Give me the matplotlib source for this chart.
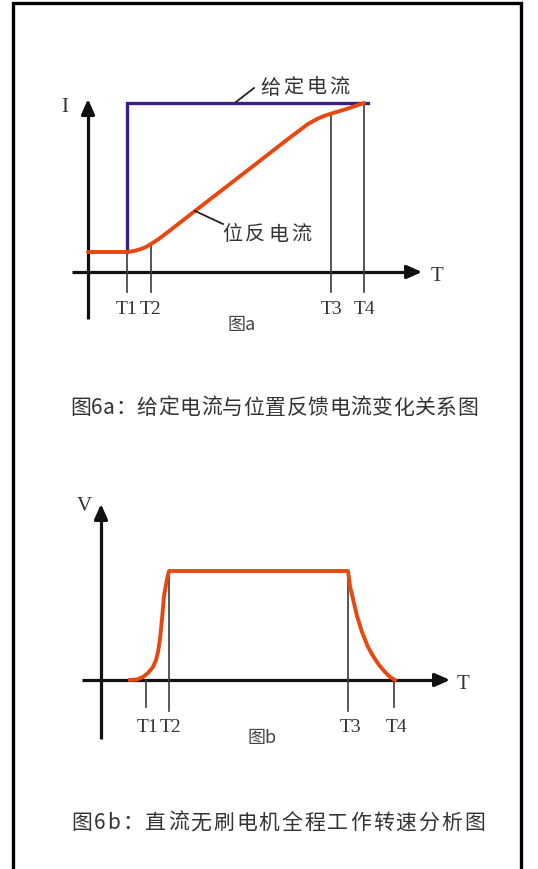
import numpy as np
import matplotlib
matplotlib.use("Agg")
import matplotlib.pyplot as plt
from matplotlib.patches import Rectangle

plt.rcParams['font.family'] = ['Noto Sans CJK SC', 'DejaVu Sans']

# ---- data, panel a (time and current, arbitrary units) ----
a_ticks = [39, 63, 243, 276]
a_tick_labels = ['T1', 'T2', 'T3', 'T4']
a_ref_t = [39, 39, 280]          # given current (step)
a_ref_i = [20, 169, 169]
a_fb_t = [0, 39, 43, 48, 53, 58, 63, 70, 80, 105, 162, 200, 212, 220, 229, 236, 242, 260, 276]
a_fb_i = [20, 20, 20.5, 21.5, 23, 25, 28, 32.5, 40, 59.5, 103.5, 133, 142, 148, 153, 156, 158, 163.5, 169]
a_tick_top = [20, 28, 158, 169]  # where the guide lines stop

# ---- data, panel b (time and speed) ----
b_ticks = [45, 68, 247, 293]
b_tick_labels = ['T1', 'T2', 'T3', 'T4']
b_tick_len = [27, 31, 31, 27]
b_t = [29, 36, 42, 47, 52, 55, 57, 59, 61, 63, 66, 68,
       247, 249, 252, 256, 261, 267, 272, 278, 284, 289, 294]
b_v = [0, 0.5, 3, 7, 13, 20, 28, 41, 61, 84, 101, 109,
       109, 94, 81, 64, 48, 33, 24, 15, 8, 3, 0]

ORANGE = '#e8480f'
PURPLE = '#3a1f8a'
GREY = '#3a3a3a'

W, H = 538, 870
fig = plt.figure(figsize=(W / 100, H / 100), dpi=100)
renderer = fig.canvas.get_renderer()


def px_axes(x0, y0, x1, y1, ox, oy):
    # axes covering pixel box, data unit = 1 px, origin at (ox, oy)
    ax = fig.add_axes([x0 / W, 1 - y1 / H, (x1 - x0) / W, (y1 - y0) / H])
    ax.set_xlim(x0 - ox, x1 - ox)
    ax.set_ylim(oy - y1, oy - y0)
    ax.axis('off')
    return ax


def spaced_text(xc, yc, s, size, gap, color='#333'):
    # place characters one by one (pixel coords, centre) with extra letter spacing
    widths = []
    for ch in s:
        t = fig.text(0, 0, ch, fontsize=size)
        widths.append(t.get_window_extent(renderer).width)
        t.remove()
    total = sum(widths) + gap * (len(s) - 1)
    x = xc - total / 2
    for ch, w in zip(s, widths):
        fig.text((x + w / 2) / W, 1 - yc / H, ch, fontsize=size, color=color,
                 ha='center', va='center')
        x += w + gap


def draw_axes(ax, xmin, xmax, ymin, ymax, xl, yl, xlab_pos, ylab_pos):
    ax.plot([xmin, xmax - 10], [0, 0], color='#111', lw=2.3, solid_capstyle='butt')
    ax.plot([0, 0], [ymin, ymax - 10], color='#111', lw=2.3, solid_capstyle='butt')
    ax.annotate('', xy=(xmax, 0), xytext=(xmax - 14, 0),
                arrowprops=dict(arrowstyle='-|>,head_length=0.9,head_width=0.4',
                                color='#111', lw=2.3, shrinkA=0, shrinkB=0))
    ax.annotate('', xy=(0, ymax), xytext=(0, ymax - 14),
                arrowprops=dict(arrowstyle='-|>,head_length=0.9,head_width=0.4',
                                color='#111', lw=2.3, shrinkA=0, shrinkB=0))
    ax.text(*xlab_pos, xl, family='Liberation Serif', fontsize=15, color='#333',
            ha='center', va='center')
    ax.text(*ylab_pos, yl, family='Liberation Serif', fontsize=15, color='#333',
            ha='center', va='center')


# ---------------- panel a ----------------
axa = px_axes(55, 85, 460, 340, 88, 273)
draw_axes(axa, -16, 334, -47, 173, 'T', 'I', (349, -4), (-23, 165))
for t, top in zip(a_ticks, a_tick_top):
    axa.plot([t, t], [-20, top], color=GREY, lw=1.2)
for t, lab in zip(a_ticks, a_tick_labels):
    axa.text(t, -37, lab, family='Liberation Serif', fontsize=14, color='#333',
             ha='center', va='center')
axa.plot(a_ref_t, a_ref_i, color=PURPLE, lw=2.4, solid_joinstyle='miter')
axa.plot(a_fb_t, a_fb_i, color=ORANGE, lw=2.8, solid_capstyle='round',
         solid_joinstyle='round')
axa.plot([148, 166], [170, 184], color='#222', lw=1.3)
spaced_text(305, 88, '给定电流', 14.5, 3)
axa.plot([107, 135], [61, 48], color='#222', lw=1.3)
spaced_text(267, 235, '位反电流', 14.5, 3)
axa.text(154, -52, '图a', fontsize=13, color='#444', ha='center', va='center')

spaced_text(274, 408, '图6a：给定电流与位置反馈电流变化关系图', 15, 0.5)

# ---------------- panel b ----------------
axb = px_axes(60, 495, 480, 755, 101, 681)
draw_axes(axb, -19, 349, -59, 176, 'T', 'V', (362, -4), (-17, 174))
for t, ln in zip(b_ticks, b_tick_len):
    axb.plot([t, t], [-ln, 0], color=GREY, lw=1.2)
axb.plot([b_ticks[1]] * 2, [0, 109], color=GREY, lw=1.2)
axb.plot([b_ticks[2]] * 2, [0, 109], color=GREY, lw=1.2)
for t, lab in zip(b_ticks, b_tick_labels):
    axb.text(t + 2, -47, lab, family='Liberation Serif', fontsize=14, color='#333',
             ha='center', va='center')
axb.plot(b_t, b_v, color=ORANGE, lw=2.8, solid_joinstyle='round')
axb.text(161, -57, '图b', fontsize=13, color='#444', ha='center', va='center')

spaced_text(278, 823, '图6b：直流无刷电机全程工作转速分析图', 15, 1.9)

# frame around the whole page
fig.patches.append(Rectangle((13 / W, -0.01), (521 - 13) / W, 1 - 4 / H + 0.01,
                             transform=fig.transFigure, fill=False,
                             edgecolor='black', lw=2.4))

fig.savefig('out.png', dpi=100)
